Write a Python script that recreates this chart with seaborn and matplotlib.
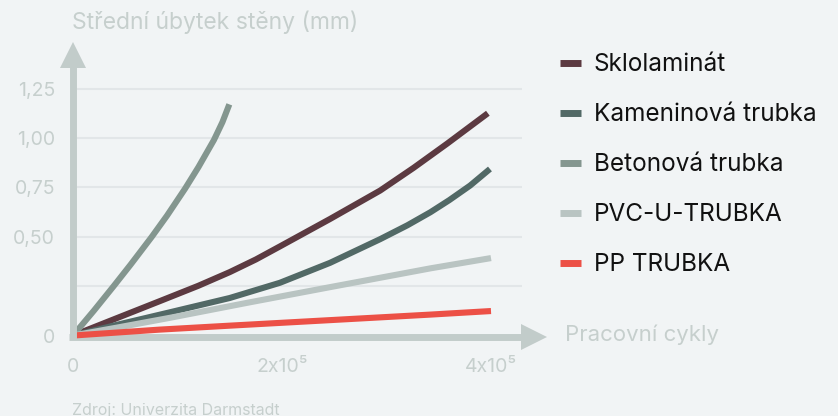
import pandas as pd
import matplotlib.pyplot as plt
import seaborn as sns

# values (x in cycles, y in mm)
skl_x = [0, 40000, 83000, 120000, 150000, 175000, 198000, 246000, 294000, 326000, 358000, 397000]
skl_y = [0, 0.084, 0.174, 0.252, 0.321, 0.385, 0.451, 0.59, 0.734, 0.849, 0.971, 1.125]
kam_x = [0, 45000, 93000, 150000, 198000, 246000, 294000, 320000, 342000, 360000, 380000, 399000]
kam_y = [0, 0.058, 0.118, 0.19, 0.267, 0.368, 0.488, 0.558, 0.624, 0.685, 0.759, 0.843]
bet_x = [0, 20000, 38600, 55000, 75300, 90000, 107200, 120000, 134900, 143000, 149600]
bet_y = [0, 0.126, 0.248, 0.358, 0.499, 0.607, 0.743, 0.852, 0.99, 1.08, 1.17]
pvc_x = [0, 45000, 93000, 169000, 246000, 342000, 400000]
pvc_y = [0, 0.043, 0.09, 0.168, 0.245, 0.34, 0.392]
pp_x = [0, 83000, 150000, 246000, 342000, 400000]
pp_y = [0, 0.03, 0.05, 0.078, 0.106, 0.124]

names = ["Sklolaminát", "Kameninová trubka", "Betonová trubka", "PVC-U-TRUBKA", "PP TRUBKA"]
colors = ["#5c3a41", "#526966", "#84968f", "#b9c4c2", "#ec5046"]
yticks = [0, 0.5, 0.75, 1.0, 1.25]
ytick_labels = ["0", "0,50", "0,75", "1,00", "1,25"]
xticks = [0, 200000, 400000]
xtick_labels = ["0", "2x10⁵", "4x10⁵"]

frames = []
for name, xs, ys in zip(names, [skl_x, kam_x, bet_x, pvc_x, pp_x],
                        [skl_y, kam_y, bet_y, pvc_y, pp_y]):
    frames.append(pd.DataFrame({"cykly": xs, "ubytek": ys, "material": name}))
df = pd.concat(frames, ignore_index=True)

sns.set_style("white")
plt.rcParams["font.family"] = ["Inter", "DejaVu Sans"]

bg = "#f1f4f5"
axis_col = "#c2ccca"
txt_col = "#c6cfcd"

fig = plt.figure(figsize=(8.38, 4.16), dpi=100, facecolor=bg)
ax = fig.add_axes([52.1 / 838, 60.7 / 416, 4.9 * 104.5 / 838, 1.6 * 197.6 / 416])
ax.set_facecolor(bg)
ax.set_xlim(-20000, 470000)
ax.set_ylim(-0.1, 1.5)
for s in ax.spines.values():
    s.set_visible(False)

# grid
for g in [0.25, 0.5, 0.75, 1.0, 1.25]:
    ax.plot([4000, 430000], [g, g], color="#e2e6e8", lw=1.5, zorder=1)

sns.lineplot(data=df, x="cykly", y="ubytek", hue="material", hue_order=names,
             palette=dict(zip(names, colors)), linewidth=4.4, ax=ax,
             sort=False, estimator=None, zorder=3)
for ln in ax.lines:
    ln.set_solid_capstyle("butt")
    ln.set_solid_joinstyle("round")

# axes arrows
ax.plot([0, 0], [-0.02, 1.40], color=axis_col, lw=5, zorder=4, clip_on=False,
        solid_capstyle="butt")
ax.plot(0, 1.42, marker="^", ms=19, color=axis_col, mew=0, zorder=4, clip_on=False)
ax.plot([-3500, 432000], [-0.006, -0.006], color=axis_col, lw=5, zorder=2,
        clip_on=False, solid_capstyle="butt")
ax.plot(441600, -0.006, marker=">", ms=19, color=axis_col, mew=0, zorder=2, clip_on=False)

ax.set_yticks(yticks)
ax.set_yticklabels(ytick_labels)
ax.set_xticks(xticks)
ax.set_xticklabels(xtick_labels)
ax.tick_params(length=0, labelsize=14, colors=txt_col)
ax.tick_params(axis="y", pad=-2)
ax.tick_params(axis="x", pad=2)
ax.set_xlabel("")
ax.set_ylabel("")

handles, labels = ax.get_legend_handles_labels()
leg = ax.legend(handles, labels, loc="upper left", bbox_to_anchor=(548 / 838, 1 - 41 / 416),
                bbox_transform=fig.transFigure, frameon=False, fontsize=17.5,
                handlelength=0.86, handletextpad=0.53, labelspacing=1.11, borderpad=0)
for ln in leg.get_lines():
    ln.set_linewidth(5)
    ln.set_solid_capstyle("butt")
for t in leg.get_texts():
    t.set_color("#111111")

fig.text(72 / 838, 1 - 22 / 416, "Střední úbytek stěny (mm)", color=txt_col,
         fontsize=16.5, va="center", ha="left")
fig.text(565 / 838, 1 - 335 / 416, "Pracovní cykly", color=txt_col,
         fontsize=16, va="center", ha="left")
fig.text(72 / 838, 1 - 410 / 416, "Zdroj: Univerzita Darmstadt", color=txt_col,
         fontsize=11.5, va="center", ha="left")

fig.savefig("out.png", dpi=100, facecolor=bg)
